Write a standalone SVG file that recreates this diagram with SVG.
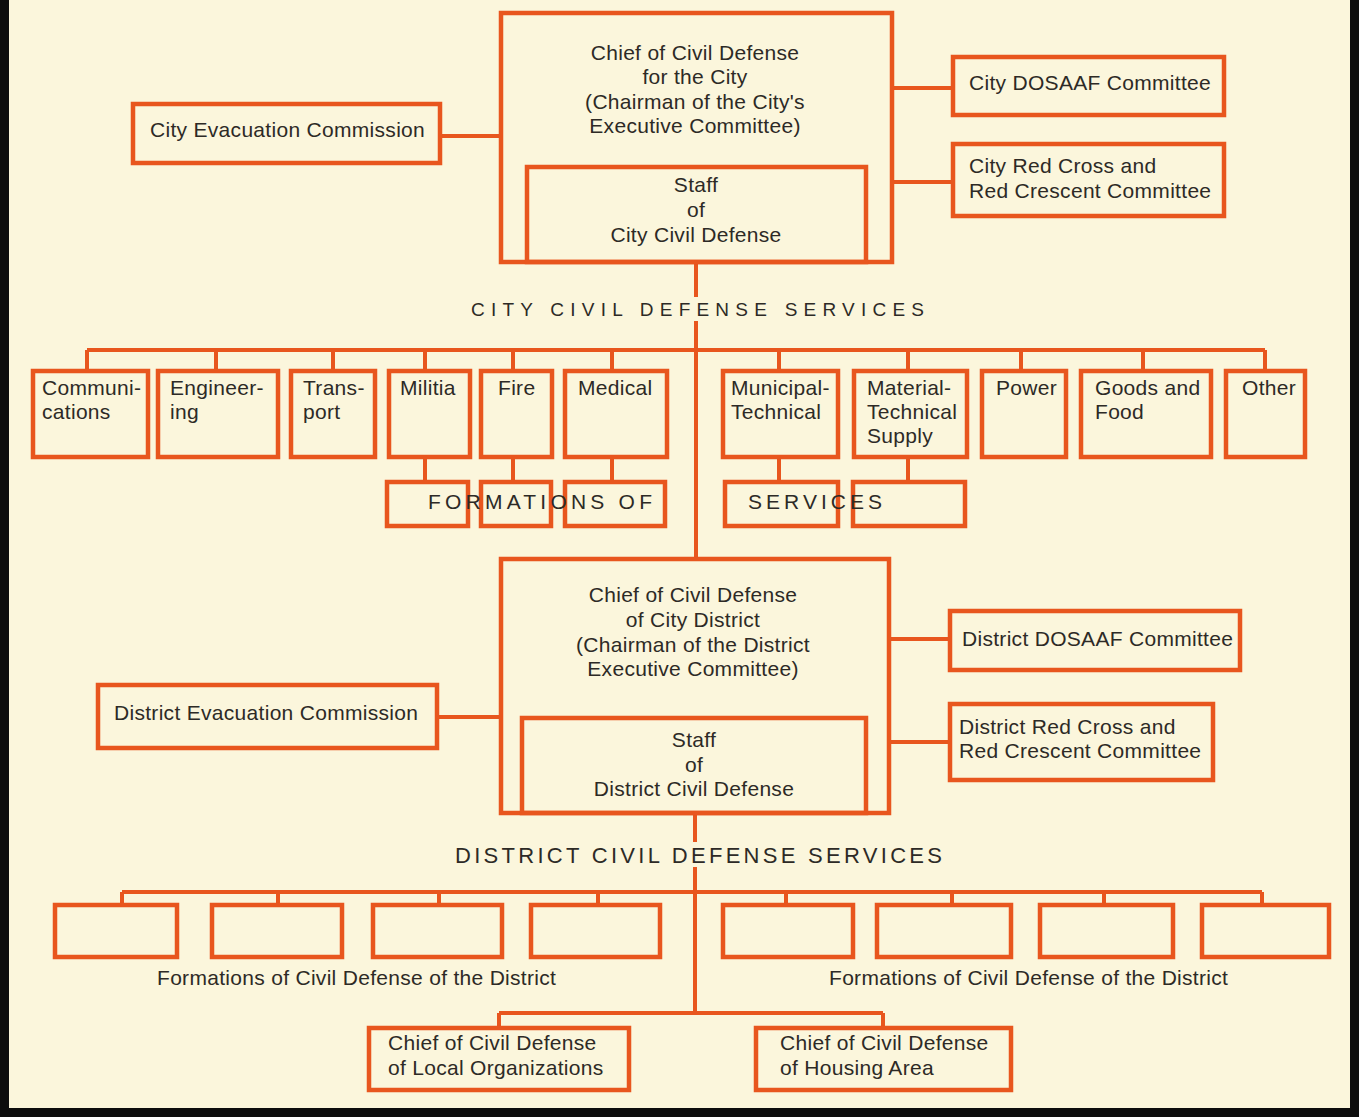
<svg xmlns="http://www.w3.org/2000/svg" width="1359" height="1117" viewBox="0 0 1359 1117">
<style>
.bx{fill:none;stroke:#E8561E;stroke-width:4.5}
.ln{fill:none;stroke:#E8561E;stroke-width:4}
.t{font-family:"Liberation Sans",Arial,Helvetica,sans-serif;font-size:21px;fill:#2d2a26;letter-spacing:0.3px}
.m{text-anchor:middle}
.h{font-family:"Liberation Sans",Arial,Helvetica,sans-serif;fill:#2d2a26}
</style>
<rect x="0" y="0" width="1359" height="1117" fill="#FBF6DC"/>
<g id="frame" fill="#0d0d0d">
<rect x="0" y="0" width="9" height="1117"/>
<rect x="1350" y="0" width="9" height="1117"/>
<rect x="0" y="1108" width="1359" height="9"/>
</g>
<g id="connectors" class="ln">
<path d="M696 262V297M696 321V558"/>
<path d="M440 136H501M892 88H953M892 182H953"/>
<path d="M87 350H1265"/>
<path d="M87 350V371M216 350V371M333 350V371M425 350V371M513 350V371M612 350V371M779 350V371M908 350V371M1021 350V371M1143 350V371M1265 350V371"/>
<path d="M425 457V482M513 457V482M612 457V482M779 457V482M908 457V482"/>
<path d="M437 717H501M889 639H950M889 742H950"/>
<path d="M695 813V842M695 867V1013"/>
<path d="M122 892H1262"/>
<path d="M122 892V905M278 892V905M439 892V905M598 892V905M786 892V905M952 892V905M1104 892V905M1262 892V905"/>
<path d="M499 1013H883M499 1013V1028M883 1013V1028"/>
</g>
<g id="city-chief">
<rect class="bx" x="501" y="13" width="391" height="249"/>
<text class="t m" x="695"><tspan x="695" y="60">Chief of Civil Defense</tspan><tspan x="695" y="84">for the City</tspan><tspan x="695" y="109">(Chairman of the City's</tspan><tspan x="695" y="133">Executive Committee)</tspan></text>
</g>
<g id="city-staff">
<rect class="bx" x="527" y="167" width="339" height="95"/>
<text class="t m"><tspan x="696" y="192">Staff</tspan><tspan x="696" y="217">of</tspan><tspan x="696" y="242">City Civil Defense</tspan></text>
</g>
<g id="city-evacuation">
<rect class="bx" x="133" y="104" width="307" height="59"/>
<text class="t" x="150" y="137">City Evacuation Commission</text>
</g>
<g id="city-dosaaf">
<rect class="bx" x="953" y="57" width="271" height="58"/>
<text class="t" x="969" y="90">City DOSAAF Committee</text>
</g>
<g id="city-redcross">
<rect class="bx" x="953" y="144" width="271" height="72"/>
<text class="t"><tspan x="969" y="173">City Red Cross and</tspan><tspan x="969" y="198">Red Crescent Committee</tspan></text>
</g>
<text id="city-services-label" class="h" x="471" y="316" font-size="19" textLength="453" lengthAdjust="spacing">CITY CIVIL DEFENSE SERVICES</text>
<g id="svc-communications"><rect class="bx" x="33" y="371" width="115" height="86"/><text class="t"><tspan x="42" y="395">Communi-</tspan><tspan x="42" y="419">cations</tspan></text></g>
<g id="svc-engineering"><rect class="bx" x="158" y="371" width="120" height="86"/><text class="t"><tspan x="170" y="395">Engineer-</tspan><tspan x="170" y="419">ing</tspan></text></g>
<g id="svc-transport"><rect class="bx" x="291" y="371" width="84" height="86"/><text class="t"><tspan x="303" y="395">Trans-</tspan><tspan x="303" y="419">port</tspan></text></g>
<g id="svc-militia"><rect class="bx" x="389" y="371" width="81" height="86"/><text class="t" x="400" y="395">Militia</text></g>
<g id="svc-fire"><rect class="bx" x="481" y="371" width="71" height="86"/><text class="t" x="498" y="395">Fire</text></g>
<g id="svc-medical"><rect class="bx" x="565" y="371" width="102" height="86"/><text class="t" x="578" y="395">Medical</text></g>
<g id="svc-municipal"><rect class="bx" x="723" y="371" width="115" height="86"/><text class="t"><tspan x="731" y="395">Municipal-</tspan><tspan x="731" y="419">Technical</tspan></text></g>
<g id="svc-material"><rect class="bx" x="854" y="371" width="113" height="86"/><text class="t"><tspan x="867" y="395">Material-</tspan><tspan x="867" y="419">Technical</tspan><tspan x="867" y="443">Supply</tspan></text></g>
<g id="svc-power"><rect class="bx" x="982" y="371" width="84" height="86"/><text class="t" x="996" y="395">Power</text></g>
<g id="svc-goods"><rect class="bx" x="1081" y="371" width="130" height="86"/><text class="t"><tspan x="1095" y="395">Goods and</tspan><tspan x="1095" y="419">Food</tspan></text></g>
<g id="svc-other"><rect class="bx" x="1226" y="371" width="79" height="86"/><text class="t" x="1242" y="395">Other</text></g>
<g id="form-militia"><rect class="bx" x="387" y="482" width="81" height="44"/></g>
<g id="form-fire"><rect class="bx" x="481" y="482" width="70" height="44"/></g>
<g id="form-medical"><rect class="bx" x="565" y="482" width="100" height="44"/></g>
<g id="form-municipal"><rect class="bx" x="725" y="482" width="113" height="44"/></g>
<g id="form-material"><rect class="bx" x="853" y="482" width="112" height="44"/></g>
<text id="formations-of-label" class="h" x="428" y="509" font-size="21" textLength="224" lengthAdjust="spacing">FORMATIONS OF</text>
<text id="services-label" class="h" x="748" y="509" font-size="21" textLength="134" lengthAdjust="spacing">SERVICES</text>
<g id="district-chief">
<rect class="bx" x="501" y="559" width="388" height="254"/>
<text class="t m"><tspan x="693" y="602">Chief of Civil Defense</tspan><tspan x="693" y="627">of City District</tspan><tspan x="693" y="652">(Chairman of the District</tspan><tspan x="693" y="676">Executive Committee)</tspan></text>
</g>
<g id="district-staff">
<rect class="bx" x="522" y="718" width="344" height="95"/>
<text class="t m"><tspan x="694" y="747">Staff</tspan><tspan x="694" y="772">of</tspan><tspan x="694" y="796">District Civil Defense</tspan></text>
</g>
<g id="district-evacuation">
<rect class="bx" x="98" y="685" width="339" height="63"/>
<text class="t" x="114" y="720">District Evacuation Commission</text>
</g>
<g id="district-dosaaf">
<rect class="bx" x="950" y="611" width="290" height="59"/>
<text class="t" x="962" y="646">District DOSAAF Committee</text>
</g>
<g id="district-redcross">
<rect class="bx" x="950" y="704" width="263" height="76"/>
<text class="t"><tspan x="959" y="734">District Red Cross and</tspan><tspan x="959" y="758">Red Crescent Committee</tspan></text>
</g>
<text id="district-services-label" class="h" x="455" y="863" font-size="22" textLength="487" lengthAdjust="spacing">DISTRICT CIVIL DEFENSE SERVICES</text>
<g id="dform-1"><rect class="bx" x="55" y="905" width="122" height="52"/></g>
<g id="dform-2"><rect class="bx" x="212" y="905" width="130" height="52"/></g>
<g id="dform-3"><rect class="bx" x="373" y="905" width="129" height="52"/></g>
<g id="dform-4"><rect class="bx" x="531" y="905" width="129" height="52"/></g>
<g id="dform-5"><rect class="bx" x="723" y="905" width="130" height="52"/></g>
<g id="dform-6"><rect class="bx" x="877" y="905" width="134" height="52"/></g>
<g id="dform-7"><rect class="bx" x="1040" y="905" width="133" height="52"/></g>
<g id="dform-8"><rect class="bx" x="1202" y="905" width="127" height="52"/></g>
<text id="dform-label-left" class="t" x="157" y="985">Formations of Civil Defense of the District</text>
<text id="dform-label-right" class="t" x="829" y="985">Formations of Civil Defense of the District</text>
<g id="chief-local">
<rect class="bx" x="369" y="1028" width="260" height="62"/>
<text class="t"><tspan x="388" y="1050">Chief of Civil Defense</tspan><tspan x="388" y="1075">of Local Organizations</tspan></text>
</g>
<g id="chief-housing">
<rect class="bx" x="756" y="1028" width="255" height="62"/>
<text class="t"><tspan x="780" y="1050">Chief of Civil Defense</tspan><tspan x="780" y="1075">of Housing Area</tspan></text>
</g>
</svg>
